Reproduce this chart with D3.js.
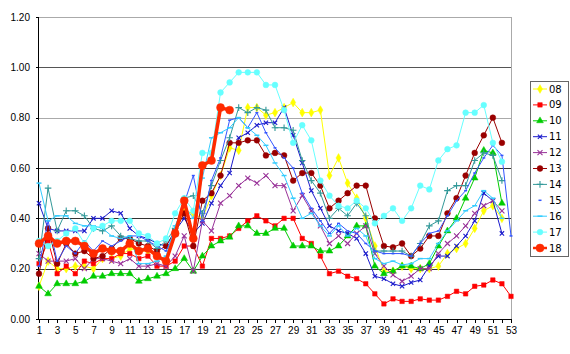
<!DOCTYPE html>
<html>
<head>
<meta charset="utf-8">
<script src="https://cdn.jsdelivr.net/npm/d3@7"></script>
<style>
  body { margin: 0; background: #fff; }
  svg { display: block; font-family: "DejaVu Sans", sans-serif; }
  .axis text { font-size: 10px; fill: #000; }
  .axis path, .axis line { stroke: #000; shape-rendering: crispEdges; }
</style>
</head>
<body>
<svg id="chart"></svg>
<script>
// week numbers 1..53
const weeks = d3.range(1, 54);
const yTicks = [0, 0.2, 0.4, 0.6, 0.8, 1.0, 1.2];
const seasons = ["08", "09", "10", "11", "12", "13", "14", "15", "16", "17", "18"];

// values, one per week (null = no data)
const s08 = [0.13,0.23,0.20,0.20,0.21,0.21,0.20,0.24,0.24,0.25,0.28,0.27,0.27,0.25,0.22,0.34,0.43,0.42,0.40,0.49,0.57,0.68,0.67,0.84,0.84,0.81,0.82,0.84,0.86,0.82,0.82,0.83,0.57,0.64,0.54,0.48,0.40,0.29,0.19,0.19,0.21,0.20,0.20,0.20,0.21,0.26,0.28,0.30,0.36,0.43,0.45,0.40,null];
const s09 = [0.22,0.31,0.18,0.21,0.18,0.23,0.22,0.24,0.24,0.26,0.26,0.24,0.25,0.21,0.21,0.23,0.29,0.29,0.21,0.32,0.32,0.33,0.36,0.39,0.41,0.39,0.37,0.40,0.40,0.32,0.30,0.25,0.18,0.19,0.17,0.16,0.14,0.10,0.06,0.08,0.07,0.07,0.08,0.075,0.075,0.09,0.11,0.10,0.13,0.135,0.155,0.14,0.09];
const s10 = [0.13,0.10,0.14,0.14,0.14,0.15,0.17,0.17,0.18,0.18,0.18,0.15,0.16,0.17,0.18,0.20,0.24,0.19,0.25,0.29,0.31,0.325,0.37,0.37,0.34,0.34,0.36,0.36,0.29,0.29,0.29,0.27,0.27,0.29,0.33,0.37,0.37,0.21,0.18,0.19,0.21,0.21,0.20,0.22,0.29,0.35,0.40,0.48,0.56,0.67,0.66,0.46,null];
const s11 = [0.46,0.36,0.35,0.35,0.35,0.35,0.40,0.40,0.43,0.42,0.36,0.33,0.32,0.30,0.29,0.35,0.40,0.34,0.38,0.46,0.53,0.58,0.72,0.74,0.77,0.78,0.78,0.84,0.73,0.62,0.51,0.44,0.37,0.35,0.34,0.32,0.26,0.17,0.16,0.14,0.13,0.145,0.155,0.21,0.25,0.25,0.29,0.33,0.39,0.50,0.47,0.34,null];
const s12 = [0.26,0.23,0.23,0.23,0.24,0.20,0.24,0.24,0.23,0.22,0.24,0.21,0.21,0.22,0.21,0.25,0.33,0.19,0.39,0.35,0.46,0.49,0.53,0.56,0.54,0.57,0.53,0.53,0.43,0.49,0.43,0.37,0.30,0.33,0.30,0.34,0.37,0.26,0.21,0.175,0.15,0.17,0.20,0.20,0.26,0.30,0.33,0.37,0.42,0.45,0.47,0.43,null];
const s13 = [0.18,0.36,0.22,0.30,0.26,0.27,0.24,0.25,0.28,0.32,0.32,0.30,0.29,0.27,0.29,0.35,0.42,0.29,0.47,0.50,0.57,0.70,0.70,0.71,0.71,0.65,0.66,0.65,0.55,0.58,0.58,0.53,0.44,0.47,0.50,0.53,0.53,0.40,0.29,0.285,0.30,0.25,0.28,0.33,0.33,0.42,0.48,0.57,0.66,0.73,0.80,0.70,null];
const s14 = [0.24,0.52,0.35,0.43,0.43,0.41,0.36,0.35,0.37,0.33,0.32,0.31,0.31,0.28,0.31,0.36,0.48,0.49,0.42,0.53,0.63,0.72,0.84,0.82,0.84,0.83,0.76,0.76,0.75,0.63,0.55,0.50,0.40,0.44,0.41,0.46,0.41,0.27,0.27,0.27,0.27,0.25,0.30,0.37,0.39,0.51,0.53,0.53,0.63,0.66,0.65,0.55,null];
const s15 = [0.21,0.39,0.23,0.29,0.26,0.31,0.27,0.31,0.29,0.31,0.33,0.33,0.31,0.29,0.27,0.35,0.46,0.57,0.39,0.55,0.64,0.79,0.80,0.76,0.82,0.74,0.68,0.64,0.60,0.50,0.44,0.39,0.34,0.38,0.35,0.34,0.30,0.27,0.26,0.26,0.26,0.25,0.30,0.34,0.35,0.41,0.47,0.51,0.58,0.64,0.69,0.65,0.33];
const s16 = [0.54,0.39,0.41,0.41,0.38,0.37,0.37,0.36,0.33,0.32,0.33,0.22,0.22,0.23,0.25,0.37,0.45,0.40,0.56,0.72,0.74,0.76,0.80,0.76,0.73,0.69,0.62,0.57,0.48,0.40,0.42,0.37,0.33,0.37,0.33,0.36,0.33,0.24,0.22,0.23,0.215,0.22,0.24,0.24,0.30,0.35,0.39,0.43,0.45,0.51,0.48,0.40,null];
const s17 = [0.31,0.29,0.31,0.34,0.36,0.30,0.36,0.37,0.39,0.39,0.39,0.34,0.33,0.30,0.32,0.42,0.48,0.43,0.66,0.66,0.90,0.94,0.98,0.98,0.98,0.93,0.93,0.83,0.70,0.77,0.71,0.55,0.49,0.45,0.44,0.47,0.44,0.38,0.41,0.44,0.39,0.44,0.53,0.515,0.63,0.675,0.69,0.82,0.82,0.85,0.70,0.625,null];
const s18 = [0.30,0.33,0.30,0.31,0.31,0.29,0.26,0.28,0.27,0.27,0.30,0.27,0.28,0.25,0.23,0.34,0.47,0.32,0.61,0.63,0.84,0.83];

const seriesValues = [s08, s09, s10, s11, s12, s13, s14, s15, s16, s17, s18];

// look of each season
const styles = {
  "08": {color: "#ffff00", width: 1, symbol: d3.symbolDiamond, size: 22, fill: true},
  "09": {color: "#ff0000", width: 1, symbol: d3.symbolSquare, size: 20, fill: true},
  "10": {color: "#00cc00", width: 1, symbol: d3.symbolTriangle, size: 20, fill: true},
  "11": {color: "#1a1acc", width: 1, symbol: d3.symbolTimes, size: 14, fill: false},
  "12": {color: "#993399", width: 1, symbol: d3.symbolTimes, size: 18, fill: false},
  "13": {color: "#990000", width: 1, symbol: d3.symbolCircle, size: 26, fill: true},
  "14": {color: "#339999", width: 1, symbol: d3.symbolPlus, size: 16, fill: false},
  "15": {color: "#3355ff", width: 1, symbol: "dash", size: 3, fill: false},
  "16": {color: "#33ccff", width: 1, symbol: "dash", size: 5, fill: false},
  "17": {color: "#66ffff", width: 1, symbol: d3.symbolCircle, size: 26, fill: true},
  "18": {color: "#ff2a00", width: 3.5, symbol: d3.symbolCircle, size: 50, fill: true}
};

const width = 570, height = 354;
const margin = {top: 17, right: 59, bottom: 35, left: 39};

const svg = d3.select("#chart").attr("width", width).attr("height", height);

const x = d3.scaleLinear().domain([1, 53]).range([margin.left, width - margin.right]);
const y = d3.scaleLinear().domain([0, 1.2]).range([height - margin.bottom, margin.top]);

// gridlines
const gridColor = v => (Math.abs(v - 0.8) < 1e-6 || Math.abs(v - 1.2) < 1e-6) ? "#aaa" : (Math.abs(v - 1.0) < 1e-6 ? "#555" : "#333");
svg.append("g")
  .selectAll("line")
  .data(yTicks.filter(v => v > 0))
  .join("line")
  .attr("x1", x(1)).attr("x2", x(53))
  .attr("y1", d => Math.round(y(d)) + 0.5).attr("y2", d => Math.round(y(d)) + 0.5)
  .attr("stroke", d => gridColor(d))
  .attr("stroke-width", 1);

// right border of plot
svg.append("line")
  .attr("x1", Math.round(x(53)) + 0.5).attr("x2", Math.round(x(53)) + 0.5)
  .attr("y1", y(1.2)).attr("y2", y(0))
  .attr("stroke", "#aaa");

// axes
const yAxis = d3.axisLeft(y).tickValues(yTicks).tickFormat(d3.format(".2f")).tickSize(3).tickPadding(6);
svg.append("g").attr("class", "axis")
  .attr("transform", `translate(${margin.left},0)`)
  .call(yAxis)
  .call(g => g.select(".domain").attr("d", `M-0.5,${y(1.2)}V${y(0)}`));

const xAxis = d3.axisBottom(x).tickValues(weeks).tickFormat(d => d % 2 === 1 ? d : "").tickSize(4).tickPadding(4);
svg.append("g").attr("class", "axis")
  .attr("transform", `translate(0,${y(0)})`)
  .call(xAxis)
  .call(g => g.select(".domain").attr("d", `M${x(1)},0.5H${x(53)}`));

// draw a marker
function drawMarker(g, st) {
  if (st.symbol === "dash") {
    g.append("line")
      .attr("x1", -st.size / 2).attr("x2", st.size / 2)
      .attr("y1", 0).attr("y2", 0)
      .attr("stroke", st.color).attr("stroke-width", 1.5);
  } else {
    g.append("path")
      .attr("d", d3.symbol().type(st.symbol).size(st.size)())
      .attr("fill", st.fill ? st.color : "none")
      .attr("stroke", st.color)
      .attr("stroke-width", st.fill ? 0.5 : 1.1);
  }
}

const line = d3.line()
  .defined(d => d.v !== null)
  .x(d => x(d.w))
  .y(d => y(d.v));

const plot = svg.append("g");
seasons.forEach((s, i) => {
  const st = styles[s];
  const pts = seriesValues[i].map((v, j) => ({w: weeks[j], v: v}));
  const g = plot.append("g");
  g.append("path")
    .datum(pts)
    .attr("fill", "none")
    .attr("stroke", st.color)
    .attr("stroke-width", st.width)
    .attr("stroke-linejoin", "round")
    .attr("d", line);
  g.selectAll(".m")
    .data(pts.filter(d => d.v !== null))
    .join("g")
    .attr("transform", d => `translate(${x(d.w)},${y(d.v)})`)
    .each(function() { drawMarker(d3.select(this), st); });
});

// legend
const lg = svg.append("g").attr("transform", "translate(530,81)");
lg.append("rect")
  .attr("x", 0.5).attr("y", 0.5)
  .attr("width", 38).attr("height", 175)
  .attr("fill", "#fff").attr("stroke", "#666");
seasons.forEach((s, i) => {
  const st = styles[s];
  const row = lg.append("g").attr("transform", `translate(0,${8 + i * 15.9})`);
  row.append("line")
    .attr("x1", 3).attr("x2", 17)
    .attr("stroke", st.color).attr("stroke-width", Math.min(st.width, 2.5))
    .style("display", s === "15" ? "none" : null);
  const m = row.append("g").attr("transform", "translate(10,0)");
  drawMarker(m, st);
  row.append("text")
    .attr("x", 19).attr("y", 0).attr("dy", "0.35em")
    .attr("font-size", 10)
    .text(s);
});
</script>
</body>
</html>
